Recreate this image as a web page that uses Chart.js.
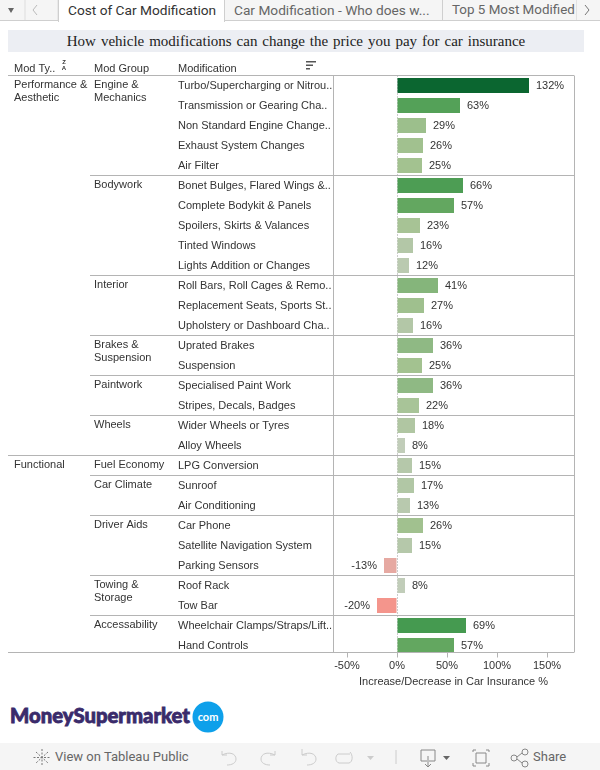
<!DOCTYPE html>
<html>
<head>
<meta charset="utf-8">
<title>Cost of Car Modification</title>
<script src="https://cdn.jsdelivr.net/npm/chart.js@4"></script>
<style>
  html, body { margin: 0; padding: 0; background: #fff; }
  body { width: 600px; height: 770px; position: relative; overflow: hidden; font-family: "Roboto", sans-serif; color: #333; }
  .abs { position: absolute; white-space: nowrap; }
  #tabs { left: 0; top: 0; width: 600px; height: 20px; background: #f5f5f5; border-bottom: 1px solid #cfcfcf; }
  .tab { position: absolute; top: 0; height: 20px; line-height: 20px; font-size: 13.7px; color: #666; overflow: hidden; box-sizing: border-box; padding-left: 8px; border-right: 1px solid #cfcfcf; }
  #tab1 { left: 58px; width: 167px; background: #fff; color: #333; height: 22px; border-left: 1px solid #cfcfcf; padding-left: 9px; }
  #tab2 { left: 226px; width: 217px; }
  #tab3 { left: 444px; width: 132px; border-right: 0; font-size: 13.4px; }
  #title { left: 8px; top: 30px; width: 576px; height: 22px; line-height: 23px; background: #eceef3; text-align: center; font-family: "Liberation Serif", serif; font-size: 15px; word-spacing: 1.2px; color: #222; }
  #chartBox { left: 0; top: 55px; }
  #toolbar { left: 0; top: 743px; width: 600px; height: 27px; background: #f5f5f5; font-size: 13px; color: #666; }
</style>
</head>
<body>
<div id="tabs" class="abs">
  <svg class="abs" style="left:0;top:0" width="60" height="20">
    <path d="M8 8h6l-3 5z" fill="#666"/>
    <path d="M25 0v20M58 0v20" stroke="#ddd"/>
    <path d="M37 5l-4 5 4 5" fill="none" stroke="#bbb"/>
  </svg>
  <div id="tab1" class="tab">Cost of Car Modification</div>
  <div id="tab2" class="tab">Car Modification - Who does w...</div>
  <div id="tab3" class="tab">Top 5 Most Modified</div>
  <svg class="abs" style="left:576px;top:0" width="24" height="20">
    <path d="M0 0v20" stroke="#cfcfcf"/>
    <path d="M9 5l4 5-4 5" fill="none" stroke="#777"/>
  </svg>
</div>
<div id="title" class="abs">How vehicle modifications can change the price you pay for car insurance</div>
<div id="chartBox" class="abs"><canvas id="modChart" width="600" height="634"></canvas></div>

<svg class="abs" style="left:8px;top:700px" width="220" height="36">
  <text x="2" y="23" font-family="Lato, sans-serif" font-weight="900" font-size="20" fill="#3a2b6b" textLength="180" lengthAdjust="spacingAndGlyphs" stroke="#3a2b6b" stroke-width="0.8">MoneySupermarket</text>
  <circle cx="200" cy="17" r="15.500" fill="#0ea0ea"/>
  <text x="200" y="21" text-anchor="middle" font-family="Lato, sans-serif" font-weight="700" font-size="11" fill="#fff">com</text>
</svg>

<div id="toolbar" class="abs">
  <svg class="abs" style="left:0;top:1px" width="600" height="27" fill="none" stroke="#888">
    <g stroke="#777"><path d="M42 5v17M33.500 13.500h17M36 8l12 11M48 8l-12 11" stroke-dasharray="2 1.500"/></g>
    <g stroke="#ccc">
      <path d="M222 7v4h5M222 11c8-4 14-1 14 4 0 4-4 6-9 6"/>
      <path d="M275 7v4h-5M275 11c-8-4-14-1-14 4 0 4 4 6 9 6"/>
      <path d="M302 5v6h5M302 11c8-4 14-1 14 4 0 4-4 6-9 6"/>
      <path d="M338 10h12M350 8c3 3 3 10-1 11h-10c-4-1-4-7-1-9"/>
      <path d="M396 6v14"/>
    </g>
    <path d="M367 12h7l-3.500 4z" fill="#ccc" stroke="none"/>
    <path d="M427 17h-6v-11h14v11h-6M428 12v11M425 20l3 3 3-3"/>
    <path d="M443 12h7l-3.500 4z" fill="#666" stroke="none"/>
    <path d="M473 8v-2h3M486 6h3v2M473 19v3h3M486 22h3v-3M476 9h10v10h-10z"/>
    <circle cx="514" cy="14" r="3"/><circle cx="525" cy="8" r="3"/><circle cx="525" cy="20" r="3"/>
    <path d="M517 13l5-4M517 15l5 4"/>
  </svg>
  <span class="abs" style="left:55px;top:6px;font-size:13px">View on Tableau Public</span>
  <span class="abs" style="left:533px;top:6px;font-size:13px">Share</span>
</div>

<script>
// chart data
const modifications = [
  "Turbo/Supercharging or Nitrou..", "Transmission or Gearing Cha..", "Non Standard Engine Change..", "Exhaust System Changes", "Air Filter",
  "Bonet Bulges, Flared Wings &..", "Complete Bodykit & Panels", "Spoilers, Skirts & Valances", "Tinted Windows", "Lights Addition or Changes",
  "Roll Bars, Roll Cages & Remo..", "Replacement Seats, Sports St..", "Upholstery or Dashboard Cha..",
  "Uprated Brakes", "Suspension",
  "Specialised Paint Work", "Stripes, Decals, Badges",
  "Wider Wheels or Tyres", "Alloy Wheels",
  "LPG Conversion",
  "Sunroof", "Air Conditioning",
  "Car Phone", "Satellite Navigation System", "Parking Sensors",
  "Roof Rack", "Tow Bar",
  "Wheelchair Clamps/Straps/Lift..", "Hand Controls"
];
const priceChange = [
  132, 63, 29, 26, 25,
  66, 57, 23, 16, 12,
  41, 27, 16,
  36, 25,
  36, 22,
  18, 8,
  15,
  17, 13,
  26, 15, -13,
  8, -20,
  69, 57
];
const modGroups = ["Engine &\nMechanics", "Bodywork", "Interior", "Brakes &\nSuspension", "Paintwork", "Wheels", "Fuel Economy", "Car Climate", "Driver Aids", "Towing &\nStorage", "Accessability"];
const groupSizes = [5, 5, 3, 2, 2, 2, 1, 2, 3, 2, 2];
const modTypes = ["Performance &\nAesthetic", "Functional"];
const typeSizes = [19, 10];
const xTicks = [-50, 0, 50, 100, 150];

const FONT = '"Liberation Sans", Arial, sans-serif';

// diverging colour ramp, same idea as the tableau one
const greenStops = [[8, [193, 205, 185]], [15, [181, 200, 170]], [25, [163, 194, 144]], [36, [143, 185, 132]], [57, [99, 167, 96]], [69, [69, 154, 80]], [132, [11, 102, 48]]];
function barColor(v) {
  if (v < 0) return v <= -20 ? "rgb(244,149,140)" : "rgb(230,169,162)";
  let lo = greenStops[0], hi = greenStops[greenStops.length - 1];
  for (let i = 0; i < greenStops.length - 1; i++) {
    if (v >= greenStops[i][0] && v <= greenStops[i + 1][0]) { lo = greenStops[i]; hi = greenStops[i + 1]; break; }
  }
  const t = (v - lo[0]) / (hi[0] - lo[0] || 1);
  const c = lo[1].map((a, i) => Math.round(a + (hi[1][i] - a) * t));
  return `rgb(${c.join(",")})`;
}

// draws the left columns, separators and value labels
const tablePlugin = {
  id: "tablePlugin",
  afterDraw(chart) {
    const { ctx, chartArea: area, scales } = chart;
    const y = scales.y;
    const x = scales.x;
    const rowH = y.getPixelForValue(1) - y.getPixelForValue(0);
    const rowTop = i => Math.floor(y.getPixelForValue(0) - rowH / 2 + rowH * i) + 0.5;
    // the bottom rule sits a little above the end of the last row
    const bottomLine = rowTop(modifications.length) - 3;

    ctx.save();
    ctx.strokeStyle = "#b4b4b4";
    ctx.lineWidth = 1;
    const hline = (x0, x1, yy) => { ctx.beginPath(); ctx.moveTo(x0, yy); ctx.lineTo(x1, yy); ctx.stroke(); };

    hline(8, area.right, rowTop(0));
    hline(8, area.right, bottomLine);

    // x axis tick marks
    xTicks.forEach(v => {
      const px = Math.round(x.getPixelForValue(v)) + 0.5;
      ctx.beginPath();
      ctx.moveTo(px, bottomLine);
      ctx.lineTo(px, bottomLine + 5);
      ctx.stroke();
    });

    ctx.font = "11px " + FONT;
    ctx.fillStyle = "#333";
    ctx.textBaseline = "middle";
    ctx.textAlign = "left";

    // mod group column
    let row = 0;
    modGroups.forEach((g, i) => {
      if (i > 0) hline(90, area.right, rowTop(row));
      g.split("\n").forEach((line, k) => ctx.fillText(line, 94, rowTop(row) + 9 + k * 13));
      row += groupSizes[i];
    });

    // mod type column
    row = 0;
    modTypes.forEach((t, i) => {
      if (i > 0) hline(8, area.right, rowTop(row));
      t.split("\n").forEach((line, k) => ctx.fillText(line, 14, rowTop(row) + 9 + k * 13));
      row += typeSizes[i];
    });

    // column headers
    ctx.fillText("Mod Ty..", 14, 14);
    ctx.fillText("Mod Group", 94, 14);
    ctx.fillText("Modification", 178, 14);
    ctx.font = "bold 6px " + FONT;
    ctx.textAlign = "center";
    ctx.fillText("Z", 64, 7);
    ctx.fillText("A", 64, 13);
    ctx.fillStyle = "#555";
    ctx.fillRect(306, 6, 10, 1.5);
    ctx.fillRect(306, 9.5, 7, 1.5);
    ctx.fillRect(306, 13, 4, 1.5);

    // value labels next to the bars
    ctx.font = "11px " + FONT;
    ctx.fillStyle = "#333";
    const meta = chart.getDatasetMeta(0);
    meta.data.forEach((bar, i) => {
      const v = priceChange[i];
      ctx.textAlign = v < 0 ? "right" : "left";
      ctx.fillText(v + "%", bar.x + (v < 0 ? -7 : 7), bar.y);
    });

    // frame verticals
    ctx.beginPath();
    ctx.moveTo(area.left + 0.5, rowTop(0));
    ctx.lineTo(area.left + 0.5, bottomLine);
    ctx.moveTo(area.right + 0.5, rowTop(0));
    ctx.lineTo(area.right + 0.5, bottomLine);
    ctx.stroke();
    ctx.restore();
  }
};

new Chart(document.getElementById("modChart"), {
  type: "bar",
  data: {
    labels: modifications,
    datasets: [{
      data: priceChange,
      backgroundColor: priceChange.map(barColor),
      barPercentage: 0.75,
      categoryPercentage: 1
    }]
  },
  options: {
    indexAxis: "y",
    responsive: false,
    animation: false,
    devicePixelRatio: 1,
    layout: { padding: { left: 178, right: 26, top: 20.5, bottom: 0 } },
    plugins: { legend: { display: false }, tooltip: { enabled: false } },
    scales: {
      x: {
        min: -64,
        max: 177,
        afterBuildTicks: axis => { axis.ticks = xTicks.map(v => ({ value: v })); },
        afterFit: axis => { axis.height = 33.5; },
        ticks: {
          callback: v => v + "%",
          color: "#333",
          font: { family: FONT, size: 11 },
          maxRotation: 0,
          padding: 4
        },
        grid: {
          color: ctx => (ctx.tick && ctx.tick.value === 0 ? "#999" : "rgba(0,0,0,0)"),
          drawTicks: false
        },
        border: { display: false, dash: [1, 2] },
        title: {
          display: true,
          text: "Increase/Decrease in Car Insurance %",
          color: "#333",
          font: { family: FONT, size: 11 },
          padding: { top: 3, bottom: 0 }
        }
      },
      y: {
        afterFit: axis => { axis.width = 155; },
        ticks: {
          crossAlign: "far",
          autoSkip: false,
          color: "#333",
          font: { family: FONT, size: 11 },
          padding: 0
        },
        grid: { display: false, drawTicks: false },
        border: { display: false }
      }
    }
  },
  plugins: [tablePlugin]
});
</script>
</body>
</html>
